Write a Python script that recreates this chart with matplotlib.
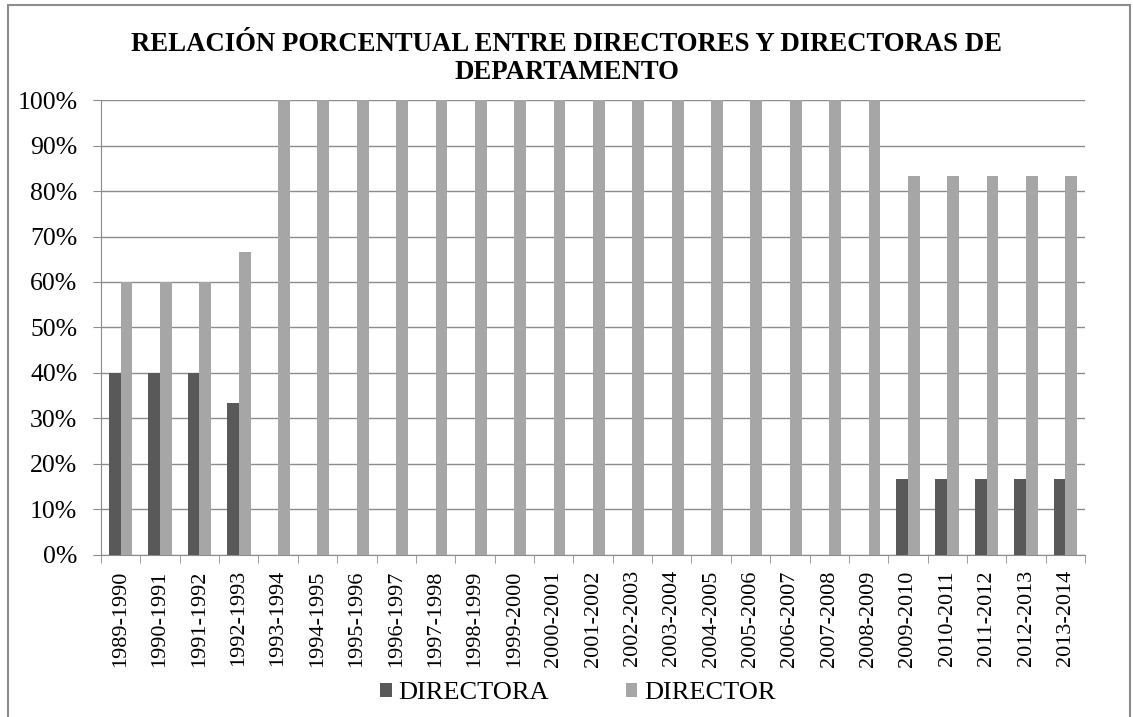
import matplotlib.pyplot as plt
import numpy as np
from matplotlib.patches import Rectangle

cursos = ['1989-1990', '1990-1991', '1991-1992', '1992-1993', '1993-1994',
          '1994-1995', '1995-1996', '1996-1997', '1997-1998', '1998-1999',
          '1999-2000', '2000-2001', '2001-2002', '2002-2003', '2003-2004',
          '2004-2005', '2005-2006', '2006-2007', '2007-2008', '2008-2009',
          '2009-2010', '2010-2011', '2011-2012', '2012-2013', '2013-2014']
directora = [40, 40, 40, 33.3] + [0] * 16 + [16.7] * 5
director = [60, 60, 60, 66.7] + [100] * 16 + [83.3] * 5

plt.rcParams['font.family'] = ['Liberation Serif', 'DejaVu Serif']

fig = plt.figure(figsize=(11.33, 7.17), dpi=100)
ax = fig.add_axes([0.0891, 0.226, 0.8686, 0.6345])

x = np.arange(len(cursos))
w = 0.3
ax.bar(x - w / 2, directora, w, color='#595959', label='DIRECTORA', zorder=3)
ax.bar(x + w / 2, director, w, color='#A6A6A6', label='DIRECTOR', zorder=3)

ax.set_xlim(-0.5, len(cursos) - 0.5)
ax.set_ylim(0, 100)
ax.set_yticks(range(0, 101, 10))
ax.set_yticklabels([f'{v}%' for v in range(0, 101, 10)], fontsize=18.5)
ax.yaxis.grid(True, color='#8c8c8c', linewidth=1, zorder=0)
ax.tick_params(axis='y', length=6, color='#8c8c8c', pad=11)

ax.set_xticks(x)
ax.set_xticklabels(cursos, rotation=90, fontsize=16)
ax.set_xticks(np.arange(-0.5, len(cursos)), minor=True)
ax.tick_params(axis='x', which='major', length=0, pad=11)
ax.tick_params(axis='x', which='minor', length=6, color='#8c8c8c')

for s in ['top', 'right']:
    ax.spines[s].set_visible(False)
for s in ['left', 'bottom']:
    ax.spines[s].set_color('#8c8c8c')

fig.text(0.5, 0.918, 'RELACIÓN PORCENTUAL ENTRE DIRECTORES Y DIRECTORAS DE\nDEPARTAMENTO',
         ha='center', va='center', fontsize=19.3, fontweight='bold', linespacing=1.15)

fig.legend(loc='center', bbox_to_anchor=(0.51, 0.033), ncol=2, frameon=False,
           fontsize=19, handlelength=0.45, handleheight=0.45, columnspacing=2.9,
           handletextpad=0.25)

fig.patches.append(Rectangle((8 / 1133, -0.1), 1122 / 1133, 1.1 - 5 / 717,
                             transform=fig.transFigure, fill=False,
                             edgecolor='#8c8c8c', linewidth=1.5))

fig.savefig('out.png', dpi=100)
